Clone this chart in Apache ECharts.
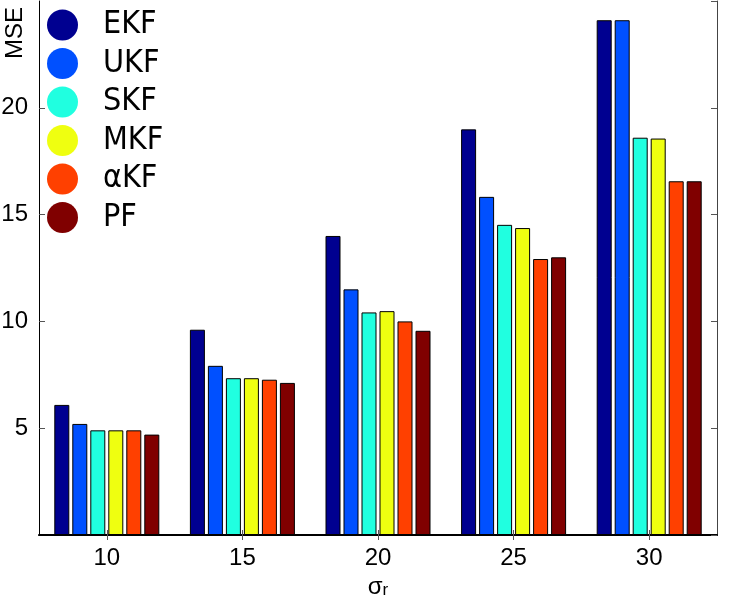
<!DOCTYPE html>
<html>
<head>
<meta charset="utf-8">
<script src="https://cdn.jsdelivr.net/npm/echarts@6/dist/echarts.min.js"></script>
<style>
html,body{margin:0;padding:0;background:#fff;}
#chart{width:729px;height:599px;}
</style>
</head>
<body>
<div id="chart"></div>
<script>
const categories = ['10', '15', '20', '25', '30'];
const seriesNames = ['EKF', 'UKF', 'SKF', 'MKF', 'αKF', 'PF'];
const EKF = [6.09, 9.61, 14.0, 18.99, 24.1];
const UKF = [5.2, 7.92, 11.5, 15.83, 24.1];
const SKF = [4.9, 7.34, 10.42, 14.52, 18.6];
const MKF = [4.9, 7.34, 10.48, 14.37, 18.56];
const aKF = [4.9, 7.27, 10.0, 12.92, 16.56];
const PF = [4.7, 7.12, 9.56, 13.0, 16.56];
const yTicks = [0, 5, 10, 15, 20, 25];
const colors = ['#000090', '#0050FF', '#20FFE0', '#EFFF10', '#FF4000', '#800000'];

const seriesData = [EKF, UKF, SKF, MKF, aKF, PF];
const font = 'Liberation Sans, Arial, sans-serif';

const chart = echarts.init(document.getElementById('chart'));
chart.setOption({
  animation: false,
  backgroundColor: '#fff',
  color: colors,
  grid: { left: 39, right: 12, top: 1, bottom: 64, containLabel: false, outerBoundsMode: 'none' },
  legend: {
    data: seriesNames.map(n => ({ name: n, icon: 'circle' })),
    orient: 'vertical',
    left: 47,
    top: 9,
    padding: 0,
    itemWidth: 31,
    itemHeight: 31,
    itemGap: 6.5,
    textStyle: {
      fontFamily: '"Liberation Sans Narrow", "DejaVu Sans Condensed", Liberation Sans, sans-serif',
      fontSize: 32,
      color: '#000',
      padding: [0, 0, 0, 20]
    },
    itemStyle: { borderWidth: 0 }
  },
  xAxis: [{
    type: 'category',
    data: categories,
    position: 'bottom',
    axisLine: { show: true, lineStyle: { color: '#000', width: 2 } },
    axisTick: { show: true, inside: true, length: 5, alignWithLabel: true, lineStyle: { color: '#555' } },
    axisLabel: { fontFamily: font, fontSize: 24, color: '#000', margin: 11 },
    name: 'σ{sub|r}',
    nameLocation: 'middle',
    nameGap: 33,
    nameTextStyle: {
      fontFamily: font, fontSize: 24, color: '#000', verticalAlign: 'top',
      rich: { sub: { fontFamily: font, fontSize: 17, color: '#000', verticalAlign: 'bottom', padding: [6, 0, 0, 0] } }
    }
  }, {
    type: 'category',
    data: categories,
    position: 'top',
    axisLine: { show: true, lineStyle: { color: '#000', width: 1 } },
    axisTick: { show: true, inside: true, length: 5, alignWithLabel: true, lineStyle: { color: '#555' } },
    axisLabel: { show: false }
  }],
  yAxis: [{
    type: 'value',
    min: 0,
    max: 25,
    interval: 5,
    position: 'left',
    splitLine: { show: false },
    axisLine: { show: true, lineStyle: { color: '#000', width: 1 } },
    axisTick: { show: true, inside: true, length: 6, lineStyle: { color: '#555' } },
    axisLabel: {
      fontFamily: font, fontSize: 24, color: '#000', margin: 11,
      showMinLabel: false, showMaxLabel: false,
      formatter: v => (yTicks.includes(v) ? String(v) : '')
    }
  }, {
    type: 'value',
    min: 0,
    max: 25,
    interval: 5,
    position: 'right',
    splitLine: { show: false },
    axisLine: { show: true, lineStyle: { color: '#444', width: 1 } },
    axisTick: { show: true, inside: true, length: 6, lineStyle: { color: '#555' } },
    axisLabel: { show: false }
  }],
  graphic: [{
    type: 'text',
    x: 15,
    y: 33,
    rotation: Math.PI / 2,
    style: {
      text: 'MSE',
      fontFamily: font,
      fontSize: 24,
      fill: '#000',
      textAlign: 'center',
      textVerticalAlign: 'middle'
    }
  }],
  series: seriesNames.map((name, i) => ({
    name: name,
    type: 'bar',
    xAxisIndex: 0,
    yAxisIndex: 0,
    data: seriesData[i],
    barWidth: 15,
    barGap: '20%',
    itemStyle: { color: colors[i], borderColor: '#000', borderWidth: 1 }
  }))
});
</script>
</body>
</html>
